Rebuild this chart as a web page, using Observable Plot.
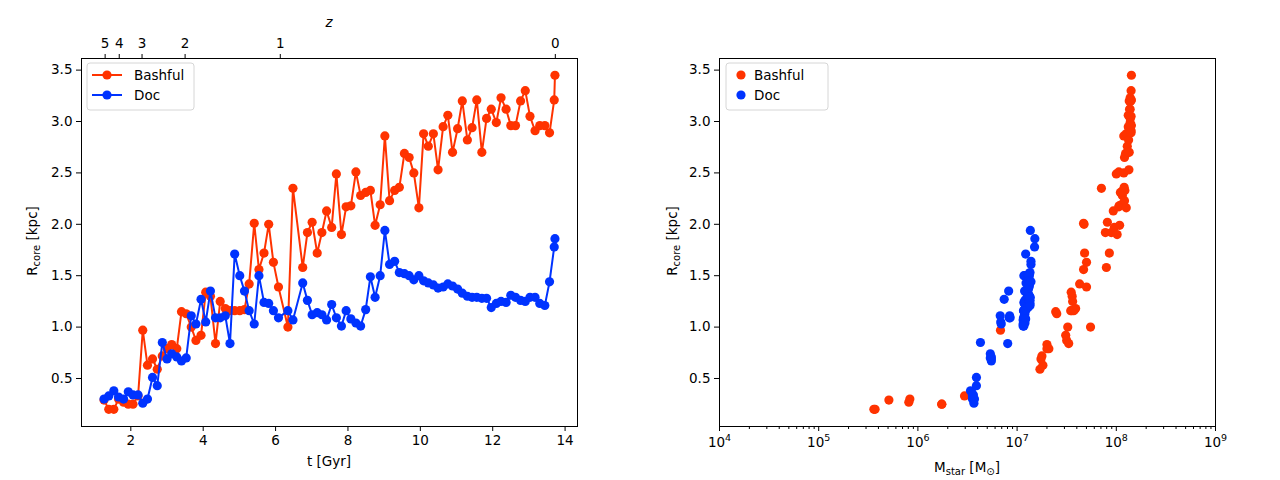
<!DOCTYPE html>
<html><head><meta charset="utf-8">
<script src="https://cdn.jsdelivr.net/npm/d3@7"></script>
<script src="https://cdn.jsdelivr.net/npm/@observablehq/plot@0.6"></script>
<style>
body{margin:0;background:#fff;}
#wrap{position:relative;width:1280px;height:480px;font-family:"DejaVu Sans",sans-serif;}
#wrap svg{position:absolute;top:0;}
</style></head>
<body><div id="wrap"></div>
<script>
// ---- data ----
const times = [1.26,1.39,1.53,1.66,1.80,1.93,2.06,2.20,2.33,2.46,2.60,2.73,2.87,3.00,3.13,3.27,3.40,3.53,3.67,3.80,3.94,4.07,4.20,4.34,4.47,4.61,4.74,4.87,5.01,5.14,5.27,5.41,5.54,5.68,5.81,5.94,6.08,6.34,6.48,6.75,6.88,7.01,7.15,7.28,7.41,7.55,7.68,7.82,7.95,8.08,8.22,8.35,8.49,8.62,8.75,8.89,9.02,9.15,9.29,9.42,9.56,9.69,9.82,9.96,10.09,10.22,10.36,10.49,10.63,10.76,10.89,11.03,11.16,11.30,11.43,11.56,11.70,11.83,11.96,12.10,12.23,12.37,12.50,12.63,12.77,12.90,13.03,13.17,13.30,13.44,13.57,13.70,13.72];

const bashfulR = [0.29,0.20,0.20,0.30,0.27,0.25,0.25,0.33,0.97,0.63,
  0.69,0.59,0.72,0.79,0.83,0.79,1.15,1.13,1.00,0.87,
  0.92,1.34,1.30,0.84,1.25,1.18,1.16,1.16,1.16,1.17,
  1.42,2.01,1.56,1.72,2.00,1.63,1.39,
  1.00,2.35,
  1.58,1.92,2.02,1.72,1.92,2.13,1.97,2.49,1.90,2.17,
  2.18,2.51,2.28,2.31,2.33,1.99,2.19,2.86,2.23,2.33,
  2.36,2.69,2.65,2.50,2.16,2.88,2.76,2.88,2.53,2.95,
  3.06,2.70,2.93,3.20,2.82,2.94,3.21,2.70,3.03,3.12,
  2.99,3.23,3.12,2.96,2.96,3.20,3.30,3.05,2.91,2.96,
  2.96,2.89,3.21,3.45];

const docR = [0.30,0.33,0.38,0.32,0.30,0.37,0.34,0.34,0.26,0.30,
  0.51,0.43,0.85,0.69,0.74,0.71,0.67,0.70,1.11,1.03,
  1.27,1.05,1.35,1.09,1.09,1.11,0.84,1.71,1.50,1.35,
  1.16,1.03,1.50,1.24,1.23,1.16,1.09,
  1.16,1.07,
  1.43,1.26,1.12,1.14,1.12,1.07,1.22,1.09,1.01,1.16,
  1.08,1.04,1.01,1.17,1.49,1.29,1.50,1.94,1.61,1.64,
  1.53,1.52,1.50,1.46,1.50,1.45,1.43,1.41,1.38,1.39,
  1.42,1.40,1.37,1.33,1.30,1.29,1.29,1.28,1.28,1.19,
  1.23,1.25,1.24,1.31,1.29,1.26,1.25,1.29,1.29,1.23,
  1.21,1.44,1.78,1.86];

const bashfulMass = [5.1e5,3.6e5,3.7e5,8.3e5,8.1e5,1.74e6,1.74e6,2.95e6,6.8e6,1.82e7,
  1.74e7,1.70e7,1.78e7,2.0e7,2.0e7,2.09e7,2.45e7,2.51e7,3.24e7,3.16e7,
  3.09e7,3.51e7,3.59e7,3.31e7,3.63e7,3.89e7,3.47e7,3.55e7,3.72e7,3.80e7,
  4.27e7,4.68e7,4.68e7,4.79e7,4.73e7,5.01e7,5.01e7,
  5.5e7,7.08e7,
  7.94e7,7.76e7,8.13e7,8.51e7,8.91e7,9.33e7,9.55e7,1.0e8,1.02e8,1.06e8,
  1.07e8,1.06e8,1.15e8,1.10e8,1.22e8,1.08e8,1.12e8,1.19e8,1.21e8,1.17e8,
  1.20e8,1.24e8,1.21e8,1.19e8,1.26e8,1.26e8,1.29e8,1.29e8,1.34e8,1.32e8,
  1.32e8,1.32e8,1.35e8,1.35e8,1.33e8,1.35e8,1.38e8,1.35e8,1.38e8,1.36e8,
  1.38e8,1.38e8,1.38e8,1.38e8,1.40e8,1.40e8,1.41e8,1.41e8,1.41e8,1.41e8,
  1.41e8,1.41e8,1.42e8,1.42e8];

const docMass = [3.55e6,3.55e6,3.39e6,3.55e6,3.63e6,3.47e6,3.55e6,3.63e6,3.67e6,3.72e6,
  3.89e6,3.89e6,4.27e6,5.5e6,5.37e6,5.5e6,5.5e6,5.37e6,6.76e6,6.92e6,
  7.41e6,6.84e6,8.22e6,8.32e6,8.51e6,8.41e6,8.04e6,1.22e7,1.17e7,1.19e7,
  1.16e7,1.15e7,1.20e7,1.17e7,1.19e7,1.17e7,1.16e7,
  1.17e7,1.15e7,
  1.23e7,1.20e7,1.19e7,1.20e7,1.19e7,1.17e7,1.20e7,1.19e7,1.15e7,1.20e7,
  1.22e7,1.20e7,1.17e7,1.23e7,1.26e7,1.26e7,1.29e7,1.36e7,1.38e7,1.38e7,
  1.35e7,1.32e7,1.30e7,1.32e7,1.33e7,1.32e7,1.33e7,1.32e7,1.30e7,1.32e7,
  1.33e7,1.32e7,1.30e7,1.29e7,1.29e7,1.30e7,1.29e7,1.30e7,1.32e7,1.29e7,
  1.30e7,1.32e7,1.33e7,1.32e7,1.33e7,1.35e7,1.33e7,1.35e7,1.35e7,1.35e7,
  1.35e7,1.38e7,1.50e7,1.51e7];

const seriesNames = ["Bashful","Doc"];
const seriesColors = ["#ff3300","#0033ff"];
const zLabels = ["5","4","3","2","1","0"];
const zTimes = [1.29,1.68,2.31,3.50,6.13,13.73];
const tTicks = [2,4,6,8,10,12,14];
const rTicks = [0.5,1.0,1.5,2.0,2.5,3.0,3.5];
const massTicks = [1e4,1e5,1e6,1e7,1e8,1e9];
const massTickExponents = ["4","5","6","7","8","9"];

// ---- tables ----
const bashful = times.map((t,i)=>({t, r: bashfulR[i], m: bashfulMass[i]}));
const doc = times.map((t,i)=>({t, r: docR[i], m: docMass[i]}));

const minorMass = [];
for (let e = 4; e < 9; e++) for (let k = 2; k <= 9; k++) minorMass.push(k * Math.pow(10, e));

const zMap = new Map(zTimes.map((t,i)=>[t, zLabels[i]]));
const expMap = new Map(massTicks.map((m,i)=>[m, massTickExponents[i]]));
const fmt1 = d3.format(".1f");
const FS = "13.5px";
const yDomain = [0.033, 3.613];

const common = {width:640, height:480, marginTop:58, marginBottom:54, inset:0,
  style:{fontFamily:"'DejaVu Sans', sans-serif", fontSize:FS, color:"black", background:"white", overflow:"visible"}};

const left = Plot.plot({
  ...common, marginLeft:81, marginRight:63,
  x:{domain:[0.637,14.343]},
  y:{domain:yDomain},
  marks:[
    Plot.axisX({anchor:"bottom", ticks:tTicks, tickSize:5, tickPadding:4, label:null}),
    Plot.axisX({anchor:"top", ticks:zTimes, tickFormat:d=>zMap.get(d), tickSize:5, tickPadding:6, label:null}),
    Plot.axisY({ticks:rTicks, tickFormat:fmt1, tickSize:5, tickPadding:4, label:null}),
    Plot.line(bashful,{x:"t", y:"r", stroke:seriesColors[0], strokeWidth:2}),
    Plot.dot(bashful,{x:"t", y:"r", r:4.6, fill:seriesColors[0]}),
    Plot.line(doc,{x:"t", y:"r", stroke:seriesColors[1], strokeWidth:2}),
    Plot.dot(doc,{x:"t", y:"r", r:4.6, fill:seriesColors[1]}),
    Plot.frame({stroke:"black", strokeWidth:1})
  ]
});

const right = Plot.plot({
  ...common, marginLeft:79, marginRight:65,
  x:{type:"log", domain:[1e4,1e9]},
  y:{domain:yDomain},
  marks:[
    Plot.axisX({anchor:"bottom", ticks:minorMass, tickSize:3, tickFormat:()=>"", label:null}),
    Plot.axisX({anchor:"bottom", ticks:massTicks, tickFormat:d=>"10|" + expMap.get(d), tickSize:5, tickPadding:6, label:null}),
    Plot.axisY({ticks:rTicks, tickFormat:fmt1, tickSize:5, tickPadding:4, label:null}),
    Plot.dot(bashful,{x:"m", y:"r", r:4.6, fill:seriesColors[0]}),
    Plot.dot(doc,{x:"m", y:"r", r:4.6, fill:seriesColors[1]}),
    Plot.frame({stroke:"black", strokeWidth:1})
  ]
});

// render 10^n tick labels with a real superscript
d3.select(right).selectAll("text").each(function(){
  const s = this.textContent;
  if (s.startsWith("10|")) {
    const e = s.slice(3);
    const t = d3.select(this);
    t.text(null);
    t.append("tspan").text("10");
    t.append("tspan").attr("dy", -6).style("font-size","9.5px").text(e);
  }
});

const wrap = document.getElementById("wrap");
left.style.left = "0px";
right.style.left = "640px";
wrap.appendChild(left);
wrap.appendChild(right);

function addText(svg, x, y, parts, rotate){
  const t = d3.select(svg).append("text")
    .attr("text-anchor","middle").attr("fill","black")
    .style("font-size", FS).style("font-family","'DejaVu Sans', sans-serif")
    .attr("transform", `translate(${x},${y})` + (rotate ? " rotate(-90)" : ""));
  parts.forEach(p => {
    const s = t.append("tspan").text(p.text);
    if (p.sub) s.attr("dy", 3).style("font-size","10px");
    if (p.up) s.attr("dy", -3);
    if (p.italic) s.style("font-style","italic");
  });
}
addText(left, 329, 466, [{text:"t [Gyr]"}]);
addText(left, 329, 27, [{text:"z", italic:true}]);
addText(left, 37, 241, [{text:"R"},{text:"core", sub:true},{text:" [kpc]", up:true}], true);
addText(right, 327, 472, [{text:"M"},{text:"star", sub:true},{text:" [M", up:true},{text:"⊙", sub:true},{text:"]", up:true}]);
addText(right, 37, 241, [{text:"R"},{text:"core", sub:true},{text:" [kpc]", up:true}], true);

function addLegend(svg, x0, y0, w, withLine){
  const g = d3.select(svg).append("g").attr("text-anchor","start");
  g.append("rect").attr("x",x0).attr("y",y0).attr("width",w).attr("height",47)
    .attr("rx",3).attr("fill","white").attr("fill-opacity",0.8).attr("stroke","#d6d6d6");
  seriesNames.forEach((name,i)=>{
    const yy = y0 + 12 + i*20;
    const tx = withLine ? x0 + 47 : x0 + 28;
    if (withLine) {
      g.append("line").attr("x1",x0+5).attr("x2",x0+35).attr("y1",yy).attr("y2",yy)
        .attr("stroke",seriesColors[i]).attr("stroke-width",2);
      g.append("circle").attr("cx",x0+20).attr("cy",yy).attr("r",4.6).attr("fill",seriesColors[i]);
    } else {
      g.append("circle").attr("cx",x0+15).attr("cy",yy).attr("r",4.6).attr("fill",seriesColors[i]);
    }
    g.append("text").attr("x",tx).attr("y",yy).attr("dy","0.35em").attr("text-anchor","start")
      .text(name).style("font-size",FS).attr("fill","black");
  });
}
addLegend(left, 87, 63, 107, true);
addLegend(right, 86, 63, 102, false);
</script>
</body></html>
